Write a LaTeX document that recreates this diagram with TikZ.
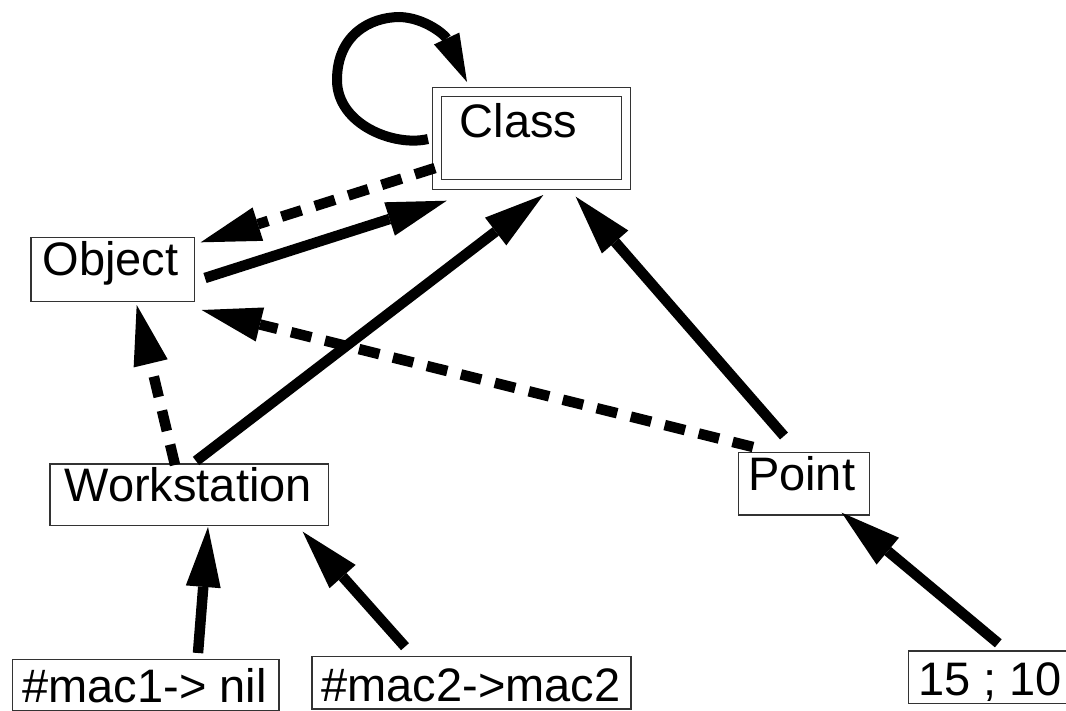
\documentclass[tikz,border=0pt]{standalone}
\usepackage{fontspec}
\setmainfont{Liberation Sans}
\usetikzlibrary{arrows.meta}
\begin{document}
\begin{tikzpicture}[x=1pt,y=-1pt,
  box/.style={draw=black!80, line width=1.2pt, inner sep=0pt, outer sep=0pt,
    anchor=base west, font=\fontsize{47pt}{56pt}\selectfont},
  conn/.style={line width=10.5pt, -{Triangle[length=60pt,width=35pt,line width=0pt]}},
  dconn/.style={conn, dash pattern=on 21pt off 14pt},
  loopconn/.style={line width=10pt, -{Triangle[length=48pt,width=28pt,line width=0pt]}}
]
\useasboundingbox (0,0) rectangle (1066,710);
\clip (0,0) rectangle (1066,710);

% nodes
\node[box, double, double distance=8.5pt, text height=45.7pt, text depth=47pt] (class) at (437,137.7)
  {\makebox[189pt][l]{\hspace{22.7pt}Class}};
\node[box, text height=37.7pt, text depth=26.7pt] (object) at (31,275)
  {\makebox[163.5pt][l]{\hspace{11.7pt}Object}};
\node[box, text height=37pt, text depth=24.7pt] (work) at (50,501)
  {\makebox[278.3pt][l]{\hspace{14.5pt}Workstation}};
\node[box, text height=38pt, text depth=24.3pt] (point) at (738.3,490.7)
  {\makebox[131pt][l]{\hspace{9.7pt}Point}};
\node[box, text height=42.7pt, text depth=9pt] (mac1) at (12.3,702)
  {\makebox[266.7pt][l]{\hspace{10.2pt}\#mac1-> nil}};
\node[box, text height=44.8pt, text depth=7.5pt] (mac2) at (312,701.5)
  {\makebox[319pt][l]{\hspace{9.5pt}\#mac2->mac2}};
\node[box, text height=44pt, text depth=8.3pt] (val) at (908.3,695)
  {\makebox[171.7pt][l]{\hspace{9.7pt}15 ; 10}};

% self loop on Class
\draw[loopconn] ([shift={(-9,47)}]class.north west)
  .. controls +(-33,8) and +(0,45) .. ([shift={(-100,-12)}]class.north west)
  .. controls +(0,-45) and +(-30,0) .. ([shift={(-37,-75)}]class.north west)
  .. controls +(25,1) and +(-22,-47) .. ([shift={(30,-10)}]class.north west);

% connectors
\draw[dconn] ([shift={(-2,76)}]class.north west) -- ([shift={(6.2,5)}]object.north east);
\draw[conn] ([shift={(10.5,40.7)}]object.north east) -- ([shift={(9.7,16)}]class.south west);
\draw[conn] ([shift={(146,-3)}]work.north west) -- ([shift={(106.3,10.3)}]class.south west);
\draw[conn] ([shift={(45.7,-16.7)}]point.north west) -- ([shift={(138.7,12)}]class.south west);
\draw[dconn] ([shift={(14.7,-5.7)}]point.north west) -- ([shift={(7.2,8.3)}]object.south east);
\draw[dconn] ([shift={(125,1)}]work.north west) -- ([shift={(105.7,3.3)}]object.south west);
\draw[conn] ([shift={(185.7,-6.3)}]mac1.north west) -- ([shift={(158,1.3)}]work.south west);
\draw[conn] ([shift={(93,-10)}]mac2.north west) -- ([shift={(-25.6,6)}]work.south east);
\draw[conn] ([shift={(90,-7.7)}]val.north west) -- ([shift={(-27.6,-2.3)}]point.south east);
\end{tikzpicture}
\end{document}
